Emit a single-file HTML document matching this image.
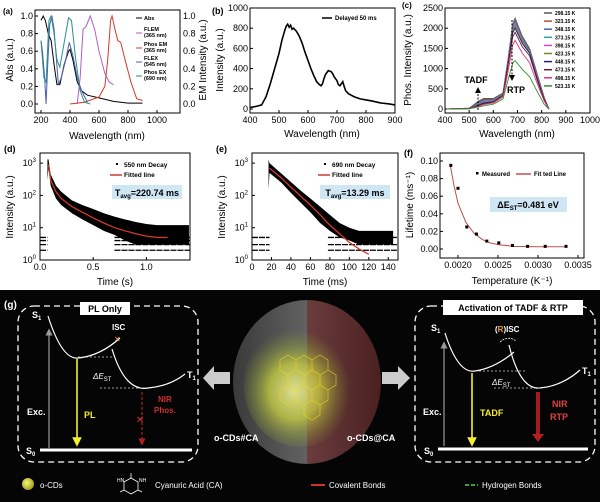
<!DOCTYPE html>
<html><head><meta charset="utf-8"><style>
html,body{margin:0;padding:0;background:#fff;}
svg{display:block;font-family:"Liberation Sans",Arial,sans-serif;}
</style></head><body>
<svg id="fig" width="600" height="502" viewBox="0 0 600 502" xmlns="http://www.w3.org/2000/svg">
<defs>
  <radialGradient id="glow" cx="0.45" cy="0.55" r="0.5">
    <stop offset="0" stop-color="#ffffa0" stop-opacity="0.95"/>
    <stop offset="0.45" stop-color="#d8e040" stop-opacity="0.8"/>
    <stop offset="1" stop-color="#80a030" stop-opacity="0"/>
  </radialGradient>
  <linearGradient id="leftHalf" x1="0" x2="1"><stop offset="0" stop-color="#3a3a3a"/><stop offset="1" stop-color="#8a8a8a"/></linearGradient>
  <linearGradient id="rightHalf" x1="0" x2="1"><stop offset="0" stop-color="#8a5a5a"/><stop offset="1" stop-color="#4a2020"/></linearGradient>
  <radialGradient id="ball" cx="0.4" cy="0.4" r="0.6"><stop offset="0" stop-color="#f8f880"/><stop offset="1" stop-color="#a0a020"/></radialGradient>
  <clipPath id="clipL"><rect x="230" y="290" width="77" height="180"/></clipPath>
  <clipPath id="clipR"><rect x="307" y="290" width="80" height="180"/></clipPath>
  <marker id="arrW" markerWidth="6" markerHeight="6" refX="3" refY="3" orient="auto"><path d="M0,0 L6,3 L0,6 z" fill="#fff"/></marker>
  <marker id="arrG" markerWidth="6" markerHeight="6" refX="3" refY="3" orient="auto"><path d="M0,0 L6,3 L0,6 z" fill="#999"/></marker>
  <marker id="arrY" markerWidth="6" markerHeight="6" refX="3" refY="3" orient="auto"><path d="M0,0 L6,3 L0,6 z" fill="#f4ee30"/></marker>
  <marker id="arrR" markerWidth="6" markerHeight="6" refX="3" refY="3" orient="auto"><path d="M0,0 L6,3 L0,6 z" fill="#b02020"/></marker>
  <marker id="arrK" markerWidth="6" markerHeight="6" refX="3" refY="3" orient="auto"><path d="M0,0 L6,3 L0,6 z" fill="#000"/></marker>
</defs>

<rect x="0" y="290" width="600" height="212" fill="#050505"/>
<text x="4" y="308" font-size="10" font-weight="bold" fill="#fff">(g)</text>

<g>
<rect x="18" y="306" width="180" height="156" rx="16" fill="none" stroke="#fff" stroke-width="1.3" stroke-dasharray="6,4"/>
<rect x="80" y="302" width="50" height="13" fill="#fff"/>
<text x="105" y="312" font-size="9" font-weight="bold" text-anchor="middle" fill="#000">PL Only</text>
<text x="32" y="318" font-size="9" font-weight="bold" fill="#fff">S<tspan font-size="6" dy="2">1</tspan></text>
<text x="26" y="454" font-size="9" font-weight="bold" fill="#fff">S<tspan font-size="6" dy="2">0</tspan></text>
<line x1="40" y1="450" x2="192" y2="450" stroke="#fff" stroke-width="3"/>
<line x1="49" y1="448" x2="49" y2="332" stroke="#999" stroke-width="1.2" marker-end="url(#arrG)"/>
<text x="27" y="415" font-size="9" font-weight="bold" fill="#fff">Exc.</text>
<path d="M48,316 Q62,360 78,358 Q100,356 120,338" fill="none" stroke="#fff" stroke-width="1.2"/>
<path d="M112,349 Q125,392 148,388 Q170,386 185,374" fill="none" stroke="#fff" stroke-width="1.2"/>
<text x="187" y="378" font-size="9" font-weight="bold" fill="#fff">T<tspan font-size="6" dy="2">1</tspan></text>
<text x="112" y="330" font-size="8" font-weight="bold" fill="#fff">ISC</text>
<text x="114" y="342" font-size="8" fill="#e0a040">✕</text>
<line x1="78" y1="357" x2="112" y2="357" stroke="#ccc" stroke-width="0.8" stroke-dasharray="2,2"/>
<line x1="100" y1="388" x2="145" y2="388" stroke="#ccc" stroke-width="0.8" stroke-dasharray="2,2"/>
<text x="93" y="379" font-size="8" font-style="italic" fill="#fff">ΔE<tspan font-size="6" dy="2" font-style="normal">ST</tspan></text>
<line x1="77" y1="359" x2="77" y2="442" stroke="#f4ee30" stroke-width="1.6" marker-end="url(#arrY)"/>
<text x="84" y="418" font-size="9" font-weight="bold" fill="#f4ee30">PL</text>
<line x1="142" y1="392" x2="142" y2="442" stroke="#b02020" stroke-width="1.2" stroke-dasharray="3,2" marker-end="url(#arrR)"/>
<text x="140" y="423" font-size="10" fill="#d03030" text-anchor="middle">✕</text>
<text x="158" y="402" font-size="8" font-weight="bold" fill="#d03030">NIR</text>
<text x="154" y="413" font-size="8" font-weight="bold" fill="#d03030">Phos.</text>
</g>

<path d="M230,372 L214,372 L214,366 L203,378 L214,390 L214,384 L230,384 z" fill="#ccc"/>
<path d="M382,372 L398,372 L398,366 L410,378 L398,390 L398,384 L382,384 z" fill="#ccc"/>

<g>
<ellipse cx="307" cy="382" rx="74" ry="82" fill="url(#leftHalf)" clip-path="url(#clipL)"/>
<ellipse cx="307" cy="382" rx="74" ry="82" fill="url(#rightHalf)" clip-path="url(#clipR)"/>
<ellipse cx="300" cy="385" rx="56" ry="62" fill="url(#glow)" opacity="0.85"/>
<g stroke="#e8d820" stroke-width="0.7" fill="none" opacity="0.8">
<path d="M280,360 l8,-5 l8,5 l0,10 l-8,5 l-8,-5 z M296,360 l8,-5 l8,5 l0,10 l-8,5 l-8,-5 z M312,360 l8,-5 l8,5 l0,10 l-8,5 l-8,-5 z M288,375 l8,-5 l8,5 l0,10 l-8,5 l-8,-5 z M304,375 l8,-5 l8,5 l0,10 l-8,5 l-8,-5 z M320,375 l8,-5 l8,5 l0,10 l-8,5 l-8,-5 z M296,390 l8,-5 l8,5 l0,10 l-8,5 l-8,-5 z M312,390 l8,-5 l8,5 l0,10 l-8,5 l-8,-5 z M280,390 l8,-5 l8,5 l0,10 l-8,5 l-8,-5 z M304,405 l8,-5 l8,5 l0,10 l-8,5 l-8,-5 z"/>
</g>
</g>
<text x="214" y="441" font-size="9" font-weight="bold" fill="#fff">o-CDs#CA</text>
<text x="347" y="441" font-size="9" font-weight="bold" fill="#fff">o-CDs@CA</text>

<g>
<rect x="415" y="306" width="180" height="156" rx="16" fill="none" stroke="#fff" stroke-width="1.3" stroke-dasharray="6,4"/>
<rect x="443" y="300" width="140" height="15" fill="#fff"/>
<text x="513" y="311" font-size="9" font-weight="bold" text-anchor="middle" fill="#000">Activation of TADF &amp; RTP</text>
<text x="431" y="331" font-size="9" font-weight="bold" fill="#fff">S<tspan font-size="6" dy="2">1</tspan></text>
<text x="424" y="454" font-size="9" font-weight="bold" fill="#fff">S<tspan font-size="6" dy="2">0</tspan></text>
<line x1="438" y1="449" x2="588" y2="449" stroke="#fff" stroke-width="3"/>
<line x1="444" y1="446" x2="444" y2="345" stroke="#999" stroke-width="1.2" marker-end="url(#arrG)"/>
<text x="423" y="415" font-size="9" font-weight="bold" fill="#fff">Exc.</text>
<path d="M445,333 Q458,374 475,371 Q495,368 514,352" fill="none" stroke="#fff" stroke-width="1.2"/>
<path d="M509,345 Q520,390 540,388 Q562,386 580,370" fill="none" stroke="#fff" stroke-width="1.2"/>
<text x="582" y="374" font-size="9" font-weight="bold" fill="#fff">T<tspan font-size="6" dy="2">1</tspan></text>
<text x="495" y="332" font-size="8" font-weight="bold" fill="#fff">(<tspan fill="#e8a030">R</tspan>)ISC</text>
<path d="M500,342 Q508,335 516,341" fill="none" stroke="#fff" stroke-width="0.8" stroke-dasharray="2,1"/>
<line x1="475" y1="371" x2="525" y2="371" stroke="#ccc" stroke-width="0.8" stroke-dasharray="2,2"/>
<line x1="494" y1="388" x2="540" y2="388" stroke="#ccc" stroke-width="0.8" stroke-dasharray="2,2"/>
<text x="492" y="385" font-size="8" font-style="italic" fill="#fff">ΔE<tspan font-size="6" dy="2" font-style="normal">ST</tspan></text>
<line x1="472" y1="373" x2="472" y2="442" stroke="#f4ee30" stroke-width="1.6" marker-end="url(#arrY)"/>
<text x="480" y="416" font-size="9" font-weight="bold" fill="#f4ee30">TADF</text>
<line x1="538" y1="392" x2="538" y2="436" stroke="#b02020" stroke-width="4" opacity="0.9"/>
<path d="M532,434 L544,434 L538,442 z" fill="#b02020"/>
<text x="552" y="407" font-size="9" font-weight="bold" fill="#e04040">NIR</text>
<text x="550" y="420" font-size="9" font-weight="bold" fill="#e04040">RTP</text>
</g>

<g>
<circle cx="28" cy="484" r="6" fill="url(#ball)"/>
<text x="40" y="488" font-size="8" fill="#fff">o-CDs</text>
<g stroke="#fff" stroke-width="0.8" fill="none">
<path d="M131,478 l7,4 l0,8 l-7,4 l-7,-4 l0,-8 z M131,478 l0,-5 M138,490 l4,2 M124,490 l-4,2"/>
</g>
<text x="117" y="482" font-size="5" fill="#fff">HN</text><text x="139" y="482" font-size="5" fill="#fff">NH</text>
<text x="155" y="488" font-size="8" fill="#fff">Cyanuric Acid (CA)</text>
<line x1="311" y1="485" x2="325" y2="485" stroke="#d03030" stroke-width="2"/>
<text x="329" y="488" font-size="8" fill="#fff">Covalent Bonds</text>
<line x1="465" y1="485" x2="478" y2="485" stroke="#40a040" stroke-width="2" stroke-dasharray="4,2"/>
<text x="482" y="488" font-size="8" fill="#fff">Hydrogen Bonds</text>
</g>

<g id="charts"></g>
</svg>

<script>
// ---------- DATA ----------
const aAbsX=[200,215,230,250,270,290,310,330,360,390,400,420,450,480,520,600,700,800,900];
const aAbsY=[0.95,1.0,0.95,0.8,0.72,0.45,0.22,0.22,0.45,0.6,0.62,0.5,0.25,0.15,0.1,0.07,0.03,0.01,0.01];
const aFlemX=[450,470,490,510,540,570,600,640,670,700];
const aFlemY=[0,0.3,0.85,0.88,1.0,0.85,0.6,0.35,0.25,0.22];
const aPemX=[400,500,600,640,660,680,690,710,730,750,780,820,860,900];
const aPemY=[0,0.02,0.08,0.2,0.5,0.95,1.0,0.85,0.72,0.7,0.5,0.25,0.06,0.04];
const aFlexX=[200,210,225,235,245,260,275,290,320,340,370,395,420,450,480,520];
const aFlexY=[0.72,0.6,0.3,0.0,0.4,0.9,1.0,0.85,0.22,0.3,0.5,0.7,0.55,0.3,0.15,0.02];
const aPexX=[200,220,235,255,270,290,310,330,360,390,410,440,470,500,540];
const aPexY=[0.72,0.3,0.25,0.95,1.0,0.8,0.5,0.42,0.7,0.98,0.95,0.5,0.15,0.02,0];
const aXTicks=[200,400,600,800,1000];
const aYTicks=[0.0,0.2,0.4,0.6,0.8,1.0];
const bX=[400,420,440,455,470,485,500,510,520,525,530,535,540,545,550,560,570,580,590,600,610,620,630,640,645,650,655,660,670,680,685,690,700,705,710,715,720,725,730,740,760,780,800,820,850,880,900];
const bY=[15,25,40,120,250,400,550,680,780,820,840,810,830,790,800,770,720,650,560,480,400,330,270,240,230,250,300,340,380,370,350,320,280,240,230,250,270,220,180,150,120,100,90,80,60,50,40];
const bXTicks=[400,500,600,700,800,900];
const bYTicks=[0,200,400,600,800,1000];
const cX=[410,500,540,560,600,640,660,680,690,720,750,780,810,830];
const cTemps=["298.15 K","323.15 K","348.15 K","373.15 K","398.15 K","423.15 K","448.15 K","473.15 K","498.15 K","523.15 K"];
const cS1=[0,20,200,260,260,400,1200,2100,2250,1800,1500,900,300,0];
const cS2=[0,20,180,240,245,390,1180,2080,2230,1780,1480,880,290,0];
const cS3=[0,18,160,220,230,380,1160,2040,2200,1760,1460,860,280,0];
const cS4=[0,16,140,200,215,370,1140,2000,2150,1730,1440,840,270,0];
const cS5=[0,15,120,180,200,360,1120,1960,2100,1700,1420,820,260,0];
const cS6=[0,14,110,160,190,350,1100,1920,2050,1660,1400,800,250,0];
const cS7=[0,12,100,150,180,340,1080,1880,2000,1620,1380,780,240,0];
const cS8=[0,10,90,130,170,330,1040,1780,1900,1540,1320,740,230,0];
const cS9=[0,8,70,110,150,300,900,1580,1700,1380,1150,650,200,0];
const cS10=[0,5,50,80,120,250,700,1130,1200,980,800,450,120,0];
const cXTicks=[400,500,600,700,800,900,1000];
const cYTicks=[0,500,1000,1500,2000,2500];
const dFitT=[0.08,0.1,0.15,0.2,0.3,0.4,0.5,0.6,0.7,0.8,0.9,1.0,1.1,1.2];
const dFitI=[900,300,130,80,45,30,20,14,10,8,6.5,5.5,5,5];
const dBandT=[0.07,0.08,0.1,0.15,0.2,0.3,0.4,0.5,0.6,0.7,0.8,0.9,1.0,1.1,1.2,1.4];
const dBandHi=[1300,1300,450,200,130,70,50,38,28,22,18,15,13,12,12,12];
const dBandLo=[300,700,200,80,50,28,18,12,8,6,4,3,3,3,3,3];
const dFloor=[5,4,3,2];
const dXTicks=[0.0,0.5,1.0];
const eFitT=[18,30,40,50,60,70,80,90,100,110,120];
const eFitI=[700,350,180,95,50,25,12,6.5,3.5,2.2,1.5];
const eBandT=[17,18,30,40,50,60,70,80,90,100,110,120,145];
const eBandHi=[1300,1000,480,260,140,80,45,25,14,10,8,8,8];
const eBandLo=[150,500,250,120,60,30,14,8,5,4,3,3,3];
const eFloor=[5,3,2];
const eXTicks=[0,20,40,60,80,100,120,140];
const fT=[0.00191,0.00200,0.00211,0.00223,0.00236,0.00251,0.00268,0.00287,0.00309,0.00335];
const fL=[0.095,0.069,0.025,0.017,0.009,0.007,0.004,0.003,0.003,0.003];
const fFitT=[0.0019,0.00195,0.002,0.0021,0.0022,0.0023,0.0024,0.0025,0.0027,0.003,0.00335];
const fFitL=[0.097,0.072,0.052,0.030,0.018,0.011,0.007,0.005,0.003,0.0025,0.0025];
const fXTicks=[0.0020,0.0025,0.0030,0.0035];
const fYTicks=[0.00,0.02,0.04,0.06,0.08,0.10];

// ---------- HELPERS ----------
const NS="http://www.w3.org/2000/svg";
const root=document.getElementById('charts');
function mk(tag,parent){const e=document.createElementNS(NS,tag);(parent||root).appendChild(e);return e;}
function lin(d0,d1,r0,r1){return v=>r0+(v-d0)*(r1-r0)/(d1-d0);}
function logs(r0,pxPerDec){return v=>r0-Math.log10(v)*pxPerDec;}
function txt(p,x,y,s,size,anchor,extra){const t=mk('text',p);t.setAttribute('x',x);t.setAttribute('y',y);t.setAttribute('font-size',size);t.setAttribute('text-anchor',anchor||'middle');t.setAttribute('fill','#000');if(extra)t.setAttribute('font-weight',extra);t.textContent=s;return t;}
function frame(p,x0,y0,x1,y1){const r=mk('rect',p);r.setAttribute('x',x0);r.setAttribute('y',y0);r.setAttribute('width',x1-x0);r.setAttribute('height',y1-y0);r.setAttribute('fill','none');r.setAttribute('stroke','#000');r.setAttribute('stroke-width','1');

}
function line(p,xs,ys,sx,sy,color,w){const pl=mk('polyline',p);pl.setAttribute('points',xs.map((v,i)=>sx(v)+','+sy(ys[i])).join(' '));pl.setAttribute('fill','none');pl.setAttribute('stroke',color);pl.setAttribute('stroke-width',w||1);return pl;}
function xticks(p,ticks,sx,yb,fmt){ticks.forEach(t=>{const l=mk('line',p);l.setAttribute('x1',sx(t));l.setAttribute('x2',sx(t));l.setAttribute('y1',yb);l.setAttribute('y2',yb-3);l.setAttribute('stroke','#000');
const tt=txt(p,sx(t),yb+10,fmt?fmt(t):String(t),9);

});}
function yticks(p,ticks,sy,xl,fmt){ticks.forEach(t=>{const l=mk('line',p);l.setAttribute('x1',xl);l.setAttribute('x2',xl+3);l.setAttribute('y1',sy(t));l.setAttribute('y2',sy(t));l.setAttribute('stroke','#000');
const tt=txt(p,xl-2,sy(t)+3,fmt?fmt(t):String(t),9,'end');

});}
function rot(p,x,y,s,size){const t=txt(p,x,y,s,size);t.setAttribute('transform','rotate(-90 '+x+' '+y+')');return t;}
function group(name){const g=mk('g');return g;}

// ---------- (a) ----------
(function(){
const g=group('panel-a-absorption-chart');
const sx=lin(200,1000,41,157), sy=lin(0,1,104,16);
frame(g,35,10,180,113);
xticks(g,aXTicks,sx,113);
yticks(g,aYTicks,sy,35,v=>v.toFixed(1));
aYTicks.forEach(t=>{const tt=txt(g,183,sy(t)+3,t.toFixed(1),9,'start');

});
const series=[[aAbsX,aAbsY,'#000','abs-line'],[aFlemX,aFlemY,'#b05cc4','flem-line'],[aPemX,aPemY,'#d03a2a','phos-em-line'],[aFlexX,aFlexY,'#4a5fb0','flex-line'],[aPexX,aPexY,'#2a8f8a','phos-ex-line']];
series.forEach(s=>{const l=line(g,s[0],s[1],sx,sy,s[2],1);

});
const lg=[['Abs','','#000',20],['FLEM','(365 nm)','#b05cc4',31],['Phos EM','(365 nm)','#d03a2a',46],['FLEX','(545 nm)','#4a5fb0',60],['Phos EX','(690 nm)','#2a8f8a',74]];
lg.forEach(e=>{const l=mk('line',g);l.setAttribute('x1',136);l.setAttribute('x2',142);l.setAttribute('y1',e[3]+(e[1]?2:-2));l.setAttribute('y2',e[3]+(e[1]?2:-2));l.setAttribute('stroke',e[2]);


const t=txt(g,144,e[3],e[0],5.5,'start','bold');


if(e[1]){txt(g,144,e[3]+6,e[1],5.5,'start','bold');}});
const pl=txt(g,3,14,'(a)',8,'start','bold');


const xt=txt(g,107,139,'Wavelength (nm)',10);


const yt=rot(g,13,60,'Abs (a.u.)',10);


const yt2=rot(g,206,60,'EM Intensity (a.u.)',10);


})();

// ---------- (b) ----------
(function(){
const g=group('panel-b-delayed-spectrum');
const sx=lin(400,900,250,395), sy=lin(0,1000,109,8);
frame(g,250,8,395,113);
xticks(g,bXTicks,sx,113);
yticks(g,bYTicks,sy,250);
const l=line(g,bX,bY,sx,sy,'#000',1.6);


const lg=mk('line',g);lg.setAttribute('x1',322);lg.setAttribute('x2',332);lg.setAttribute('y1',18);lg.setAttribute('y2',18);lg.setAttribute('stroke','#000');lg.setAttribute('stroke-width',1.5);


const lt=txt(g,335,20,'Delayed 50 ms',6,'start','bold');


const pl=txt(g,212,14,'(b)',9,'start','bold');


const xt=txt(g,322,137,'Wavelength (nm)',10);


const yt=rot(g,223,60,'Intensity (a.u.)',10);


})();

// ---------- (c) ----------
(function(){
const g=group('panel-c-temperature-spectra');
const sx=lin(400,1000,445,590), sy=lin(0,2500,109,8);
frame(g,445,8,590,113);
xticks(g,cXTicks,sx,113);
yticks(g,cYTicks,sy,445);
const colors=['#555','#b05030','#4060b0','#30a0a0','#c050c0','#6a8f20','#202080','#602030','#e0307a','#309030'];
const all=[cS1,cS2,cS3,cS4,cS5,cS6,cS7,cS8,cS9,cS10];
all.forEach((s,i)=>{const l=line(g,cX,s,sx,sy,colors[i],0.9);


const sw=mk('line',g);sw.setAttribute('x1',544);sw.setAttribute('x2',552);sw.setAttribute('y1',13+i*8.1);sw.setAttribute('y2',13+i*8.1);sw.setAttribute('stroke',colors[i]);sw.setAttribute('stroke-width',1.5);


const t=txt(g,555,15+i*8.1,cTemps[i],5,'start','bold');

});
const a1=mk('line',g);a1.setAttribute('x1',478);a1.setAttribute('x2',478);a1.setAttribute('y1',110);a1.setAttribute('y2',90);a1.setAttribute('stroke','#000');a1.setAttribute('stroke-dasharray','2,1.5');a1.setAttribute('marker-end','url(#arrK)');


const a2=mk('line',g);a2.setAttribute('x1',512);a2.setAttribute('x2',512);a2.setAttribute('y1',20);a2.setAttribute('y2',78);a2.setAttribute('stroke','#000');a2.setAttribute('stroke-dasharray','2,1.5');a2.setAttribute('marker-end','url(#arrK)');


const t1=txt(g,476,83,'TADF',9,'middle','bold');


const t2=txt(g,516,93,'RTP',9,'middle','bold');


const pl=txt(g,402,8,'(c)',8,'start','bold');


const xt=txt(g,517,137,'Wavelength (nm)',10);


const yt=rot(g,411,60,'Phos. Intensity (a.u.)',10);


})();

function decay(name,label,lx,x0,x1,dMin,dMax,ticks,fitT,fitI,bT,bHi,bLo,floor,floorRanges,legendText,boxText,boxX,xtitle,fmt){
const g=group(name);
const sx=lin(dMin,dMax,x0,x1), sy=logs(260,32.3);
const poly=mk('polygon',g);
poly.setAttribute('points',bT.map((t,i)=>sx(t)+','+sy(bHi[i])).concat(bT.map((t,i)=>sx(t)+','+sy(bLo[i])).reverse()).join(' '));
poly.setAttribute('fill','#000');


floor.forEach(v=>{floorRanges.forEach(r=>{const l=mk('line',g);l.setAttribute('x1',sx(r[0]));l.setAttribute('x2',sx(r[1]));l.setAttribute('y1',sy(v));l.setAttribute('y2',sy(v));l.setAttribute('stroke','#000');l.setAttribute('stroke-width',1.3);l.setAttribute('stroke-dasharray','6,1');

});});
const f=line(g,fitT,fitI,sx,sy,'#d03a2a',1.3);


frame(g,x0,153,x1,260);
xticks(g,ticks,sx,260,fmt);
[0,1,2,3].forEach(k=>{const y=sy(Math.pow(10,k));const l=mk('line',g);l.setAttribute('x1',x0);l.setAttribute('x2',x0+3);l.setAttribute('y1',y);l.setAttribute('y2',y);l.setAttribute('stroke','#000');
const t=txt(g,x0-4,y+3,'10',9,'end');


const sp=mk('tspan',t);sp.setAttribute('font-size',6);sp.setAttribute('dy',-4);sp.textContent=k;});
const dot=mk('rect',g);dot.setAttribute('x',boxX+4);dot.setAttribute('y',163);dot.setAttribute('width',2);dot.setAttribute('height',2);dot.setAttribute('fill','#000');


const lt=txt(g,boxX+12,167,legendText,6.5,'start','bold');


const rl=mk('line',g);rl.setAttribute('x1',boxX-2);rl.setAttribute('x2',boxX+10);rl.setAttribute('y1',175);rl.setAttribute('y2',175);rl.setAttribute('stroke','#d03a2a');rl.setAttribute('stroke-width',1.5);


const ft=txt(g,boxX+12,177,'Fitted line',6.5,'start','bold');


const bx=mk('rect',g);bx.setAttribute('x',boxX);bx.setAttribute('y',185);bx.setAttribute('width',70);bx.setAttribute('height',14);bx.setAttribute('fill','#cfe6f5');


const bt=txt(g,boxX+35,196,'T',9,'middle','bold');


const s1=mk('tspan',bt);s1.setAttribute('font-size',6);s1.setAttribute('dy',2);s1.textContent='avg';
const s2=mk('tspan',bt);s2.setAttribute('dy',-2);s2.textContent=boxText;
const pl=txt(g,lx,152,label,9,'start','bold');


const xt=txt(g,(x0+x1)/2,285,xtitle,10);


const yt=rot(g,x0-27,207,'Intensity (a.u.)',10);


}
decay('panel-d-550nm-decay','(d)',4,40,190,0,1.41,dXTicks,dFitT,dFitI,dBandT,dBandHi,dBandLo,dFloor,[[0,0.07],[0.7,1.41]],'550 nm Decay','=220.74 ms',112,'Time (s)',v=>v.toFixed(1));
decay('panel-e-690nm-decay','(e)',216,252,398,0,150,eXTicks,eFitT,eFitI,eBandT,eBandHi,eBandLo,eFloor,[[0,18],[78,150]],'690 nm Decay','=13.29 ms',320,'Time (ms)');

(function(){
const g=group('panel-f-lifetime-fit');
const sx=lin(0.0020,0.0035,458,578), sy=lin(0,0.1,249,161);
frame(g,440,153,584,258);
xticks(g,fXTicks,sx,258,v=>v.toFixed(4));
yticks(g,fYTicks,sy,440,v=>v.toFixed(2));
const f=line(g,fFitT,fFitL,sx,sy,'#c0504a',1);


fT.forEach((t,i)=>{const r=mk('rect',g);r.setAttribute('x',sx(t)-1.5);r.setAttribute('y',sy(fL[i])-1.5);r.setAttribute('width',3);r.setAttribute('height',3);r.setAttribute('fill','#000');

});
const m=mk('rect',g);m.setAttribute('x',476);m.setAttribute('y',172);m.setAttribute('width',2.5);m.setAttribute('height',2.5);m.setAttribute('fill','#000');


const t1=txt(g,482,176,'Measured',6,'start','bold');


const rl=mk('line',g);rl.setAttribute('x1',516);rl.setAttribute('x2',531);rl.setAttribute('y1',174);rl.setAttribute('y2',174);rl.setAttribute('stroke','#c0504a');rl.setAttribute('stroke-width',1.5);


const t2=txt(g,534,176,'Fit ted Line',6,'start','bold');


const bx=mk('rect',g);bx.setAttribute('x',490);bx.setAttribute('y',197);bx.setAttribute('width',77);bx.setAttribute('height',15);bx.setAttribute('fill','#cfe6f5');


const bt=txt(g,528,208,'ΔE',9,'middle','bold');


const s1=mk('tspan',bt);s1.setAttribute('font-size',6);s1.setAttribute('dy',2);s1.textContent='ST';
const s2=mk('tspan',bt);s2.setAttribute('dy',-2);s2.textContent='=0.481 eV';
const pl=txt(g,404,156,'(f)',9,'start','bold');


const xt=txt(g,512,284,'Temperature (K⁻¹)',10);


const yt=rot(g,413,205,'Lifetime (ms⁻¹)',10);


})();
</script>
</body></html>
